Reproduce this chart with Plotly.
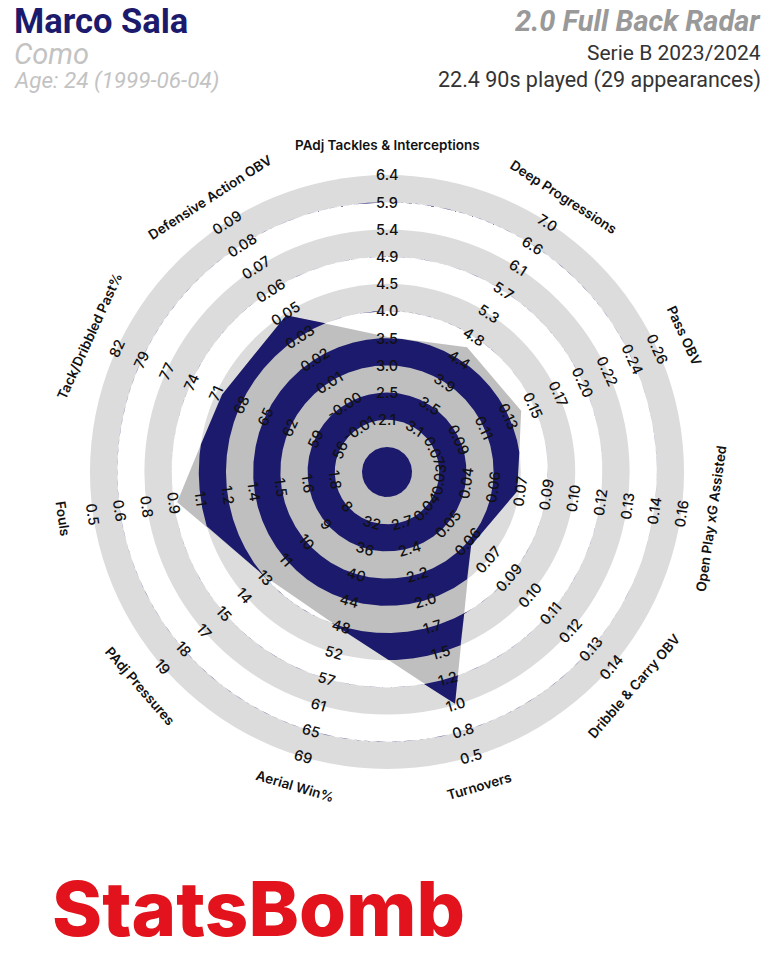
import numpy as np
import plotly.graph_objects as go

# ---------------- data ----------------
player_name = "Marco Sala"
team_name = "Como"
age_text = "Age: 24 (1999-06-04)"
radar_title = "2.0 Full Back Radar"
competition = "Serie B 2023/2024"
playing_time = "22.4 90s played (29 appearances)"
brand = "StatsBomb"

metrics = ["PAdj Tackles & Interceptions", "Deep Progressions", "Pass OBV",
           "Open Play xG Assisted", "Dribble & Carry OBV", "Turnovers",
           "Aerial Win%", "PAdj Pressures", "Fouls", "Tack/Dribbled Past%",
           "Defensive Action OBV"]
# value at the inner circle edge / at the outer ring edge
range_low = [1.582, 2.67, 0.049, 0.014, 0.0275, 2.92, 27.9, 6.38, 1.94, 53.2, -0.0232]
range_high = [6.362, 7.0, 0.26, 0.159, 0.1425, 0.52, 69.0, 19.08, 0.5, 82.0, 0.0918]
player_values = [3.52, 4.63, 0.144, 0.071, 0.064, 1.01, 48.8, 12.7, 0.95, 69.9, 0.045]
tick_labels = [
    ["2.1", "2.5", "3.0", "3.5", "4.0", "4.5", "4.9", "5.4", "5.9", "6.4"],
    ["3.1", "3.5", "3.9", "4.4", "4.8", "5.3", "5.7", "6.1", "6.6", "7.0"],
    ["0.07", "0.09", "0.11", "0.13", "0.15", "0.17", "0.20", "0.22", "0.24", "0.26"],
    ["0.03", "0.04", "0.06", "0.07", "0.09", "0.10", "0.12", "0.13", "0.14", "0.16"],
    ["0.04", "0.05", "0.06", "0.07", "0.09", "0.10", "0.11", "0.12", "0.13", "0.14"],
    ["2.7", "2.4", "2.2", "2.0", "1.7", "1.5", "1.2", "1.0", "0.8", "0.5"],
    ["32", "36", "40", "44", "48", "52", "57", "61", "65", "69"],
    ["8", "9", "10", "11", "13", "14", "15", "17", "18", "19"],
    ["1.8", "1.6", "1.5", "1.4", "1.2", "1.1", "0.9", "0.8", "0.6", "0.5"],
    ["56", "59", "62", "65", "68", "71", "74", "77", "79", "82"],
    ["-0.01", "-0.00", "0.01", "0.02", "0.03", "0.05", "0.06", "0.07", "0.08", "0.09"],
]

# ---------------- style ----------------
NAVY = "#1b1a6c"
RING_LIGHT = "#dcdcdc"
POLY_GREY = "#bfbfbf"
CENTER_R = 0.92      # inner circle radius (ring units)
N_RINGS = 10
W, H = 775, 975
OFF = 8              # page body margin compensation
PX = 27.2            # pixels per ring unit
CX, CY = 387 - OFF, 472 - OFF    # radar centre in figure pixels
FONT = "Inter"

n = len(metrics)
angles = np.arange(n) * 360.0 / n          # clockwise from top


def to_radius(i, v):
    lo, hi = range_low[i], range_high[i]
    return CENTER_R + (v - lo) / (hi - lo) * N_RINGS


vert_r = np.array([to_radius(i, v) for i, v in enumerate(player_values)])
vert_t = np.deg2rad(angles)


def poly_radius(theta):
    """radius of the player polygon along direction theta (radians, clockwise from top)"""
    step = 2 * np.pi / n
    t = np.mod(theta, 2 * np.pi)
    i = np.minimum((t // step).astype(int), n - 1)
    j = (i + 1) % n
    t1 = vert_t[i]
    r1 = vert_r[i]
    r2 = vert_r[j]
    d = step
    return r1 * r2 * np.sin(d) / (r1 * np.sin(t - t1) + r2 * np.sin(t1 + d - t))


theta = np.sort(np.unique(np.concatenate([np.linspace(0, 2 * np.pi, 1441), vert_t])))
rho = poly_radius(theta)

fig = go.Figure()

# rings (outside the polygon)
shapes = []
edges = [CENTER_R + k for k in range(N_RINGS + 1)]
for k in range(N_RINGS, 0, -1):
    r = edges[k]
    col = RING_LIGHT if (k % 2 == 0) else "white"
    shapes.append(dict(type="circle", xref="x", yref="y", x0=-r, x1=r, y0=-r, y1=r,
                       fillcolor=col, line=dict(width=0), layer="below"))

# polygon
px_ = vert_r * np.sin(vert_t)
py_ = vert_r * np.cos(vert_t)
fig.add_trace(go.Scatter(x=np.append(px_, px_[0]), y=np.append(py_, py_[0]), mode="lines",
                         fill="toself", fillcolor=POLY_GREY, line=dict(width=0),
                         hoverinfo="skip", showlegend=False))

# navy bands = light rings clipped by polygon
bands = [(0.0, CENTER_R)] + [(edges[k], edges[k + 1]) for k in range(1, N_RINGS, 2)]
for a, b in bands:
    outer = np.clip(rho, a, b)
    xo = outer * np.sin(theta)
    yo = outer * np.cos(theta)
    xi = a * np.sin(theta[::-1])
    yi = a * np.cos(theta[::-1])
    fig.add_trace(go.Scatter(x=np.concatenate([xo, xi]), y=np.concatenate([yo, yi]),
                             mode="lines", fill="toself", fillcolor=NAVY,
                             line=dict(width=0), hoverinfo="skip", showlegend=False))

annotations = []


def text_rot(phi):
    a = phi % 360
    if 90 < a < 270:
        a -= 180
    if a > 180:
        a -= 360
    return a


for i in range(n):
    phi = angles[i]
    rot = text_rot(phi)
    s, c = np.sin(np.deg2rad(phi)), np.cos(np.deg2rad(phi))
    for j, lab in enumerate(tick_labels[i]):
        r = edges[j + 1]
        annotations.append(dict(x=r * s, y=r * c, xref="x", yref="y", text=lab,
                                showarrow=False, textangle=rot,
                                xanchor="center", yanchor="middle",
                                font=dict(family=FONT, size=14.5, color="#111", weight=500)))
    r = edges[-1] + 1.1
    annotations.append(dict(x=r * s, y=r * c, xref="x", yref="y", text=metrics[i],
                            showarrow=False, textangle=rot,
                            xanchor="center", yanchor="middle",
                            font=dict(family=FONT, size=13.5, color="#111", weight=600)))


# header (screen pixel positions)
def py(p):
    return 1 - (p - OFF) / H


def pxx(p):
    return (p - OFF) / W


annotations += [
    dict(x=pxx(12), y=py(21), xref="paper", yref="paper", text=player_name, showarrow=False,
         xanchor="left", yanchor="middle",
         font=dict(family="Roboto", size=34.5, color=NAVY, weight=700)),
    dict(x=pxx(12), y=py(54), xref="paper", yref="paper", text=team_name, showarrow=False,
         xanchor="left", yanchor="middle",
         font=dict(family="Roboto", size=29, color="#c3c3c3", style="italic")),
    dict(x=pxx(12), y=py(80), xref="paper", yref="paper", text=age_text, showarrow=False,
         xanchor="left", yanchor="middle",
         font=dict(family="Roboto", size=22.5, color="#c3c3c3", style="italic")),
    dict(x=pxx(763), y=py(21), xref="paper", yref="paper", text=radar_title, showarrow=False,
         xanchor="right", yanchor="middle",
         font=dict(family="Roboto", size=29, color="#999999", style="italic", weight=700)),
    dict(x=pxx(763), y=py(53), xref="paper", yref="paper", text=competition, showarrow=False,
         xanchor="right", yanchor="middle",
         font=dict(family="Roboto", size=21, color="#333333")),
    dict(x=pxx(763), y=py(80), xref="paper", yref="paper", text=playing_time, showarrow=False,
         xanchor="right", yanchor="middle",
         font=dict(family="Roboto", size=21.5, color="#333333")),
    dict(x=pxx(50), y=py(908), xref="paper", yref="paper", text=brand, showarrow=False,
         xanchor="left", yanchor="middle",
         font=dict(family="Inter", size=76, color="#e2131c", weight=800)),
]

fig.update_layout(
    width=W, height=H, autosize=False,
    margin=dict(l=0, r=0, t=0, b=0),
    paper_bgcolor="white", plot_bgcolor="white",
    xaxis=dict(range=[-CX / PX, (W - CX) / PX], visible=False, fixedrange=True),
    yaxis=dict(range=[-(H - CY) / PX, CY / PX], visible=False, fixedrange=True),
    shapes=shapes, annotations=annotations, showlegend=False,
)

fig.write_html("out.html")
